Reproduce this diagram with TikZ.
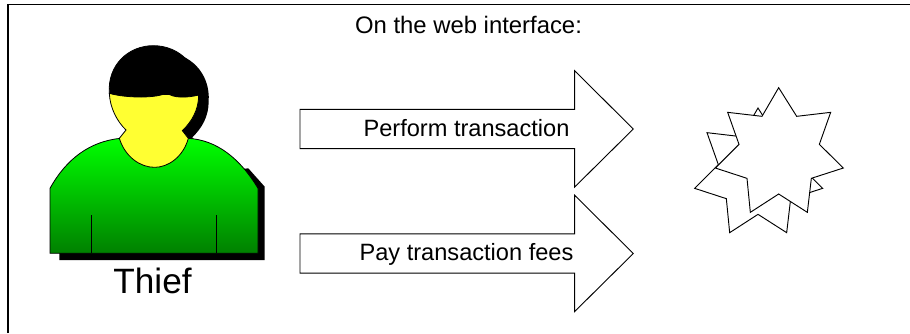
\documentclass[tikz,border=0pt]{standalone}
\usepackage{fontspec}
\setmainfont{Liberation Sans}
\newcommand{\bodypath}{(60,475) .. controls (110,385) and (180,335) .. (270,325) -- (475,325) .. controls (560,330) and (630,385) .. (684,475) -- (684,670) -- (60,670) -- cycle}
\newcommand{\hairpath}{(238,190) .. controls (232,105) and (295,47) .. (370,47) .. controls (450,47) and (512,110) .. (506,195) .. controls (475,203) and (430,206) .. (410,188) .. controls (385,205) and (290,205) .. (238,190) -- cycle}
\newcommand{\headpath}{(238,190) .. controls (240,235) and (262,275) .. (288,300) -- (268,325) .. controls (285,380) and (330,412) .. (374,412) .. controls (415,412) and (460,380) .. (475,325) -- (457,302) .. controls (485,275) and (506,240) .. (506,195) -- cycle}
\newcommand{\starpath}{(296,53) -- (350,139) -- (452,127) -- (418,223) -- (490,294) -- (394,325) -- (382,427) -- (296,372) -- (211,427) -- (201,325) -- (106,294) -- (177,223) -- (143,127) -- (246,139) -- cycle}
\newcommand{\arrowpath}{(0,0) -- (274.7,0) -- (274.7,-38.5) -- (333.3,19.7) -- (274.7,77.7) -- (274.7,39.4) -- (0,39.4) -- cycle}
\definecolor{skin}{RGB}{255,255,50}
\definecolor{greentop}{RGB}{0,255,0}
\definecolor{greenbottom}{RGB}{0,128,0}
\tikzset{
  outline/.style={draw=black,line width=0.7pt,line join=miter},
  thinline/.style={draw=black,line width=0.6pt},
  shadowfill/.style={fill=black,draw=none},
  arrowshape/.style={outline,fill=white},
  labeltext/.style={font=\fontsize{17.7}{21}\selectfont,inner sep=0pt,anchor=base},
}
\begin{document}
\begin{tikzpicture}[x=0.75pt,y=-0.75pt]
\useasboundingbox (0,0) rectangle (910,333);
\fill[white] (0,0) rectangle (910,333);
\draw[line width=0.85pt,line cap=butt] (8,333) -- (8,4.6) -- (910,4.6);
\node[labeltext,font=\fontsize{17.9}{21}\selectfont] (title) at (468.5,33) {On the web interface:};
% person
\begin{scope}[shift={(30,30)},x=0.25pt,y=-0.25pt]
  \begin{scope}[shift={(30,20)}]
    \path[shadowfill] \hairpath;
    \path[shadowfill] \headpath;
  \end{scope}
  \path[shadowfill] (88,690) -- (704,690) -- (704,470) -- (655,415) -- (600,420) -- (88,600) -- cycle;
  \path[thinline,top color=greentop,bottom color=greenbottom] \bodypath;
  \path[thinline] (185,555) -- (185,670);
  \path[thinline] (560,555) -- (560,670);
  \path[thinline,fill=skin] \headpath;
  \path[thinline,fill=black] \hairpath;
\end{scope}
\node[font=\fontsize{26.4}{30}\selectfont,inner sep=0pt,anchor=base] (thief) at (152.5,293.5) {Thief};
% arrows
\begin{scope}[shift={(300,109.3)}]
  \path[arrowshape] \arrowpath;
\end{scope}
\begin{scope}[shift={(300,233.8)}]
  \path[arrowshape] \arrowpath;
\end{scope}
\node[labeltext] (perform) at (466.5,136) {Perform transaction};
\node[labeltext] (fees) at (466.5,260) {Pay transaction fees};
% stars
\begin{scope}[shift={(680,70)},x=0.25pt,y=-0.25pt]
  \begin{scope}[shift={(-62,61)}]
    \path[outline,fill=white] \starpath;
  \end{scope}
  \path[outline,fill=white] \starpath;
\end{scope}
\end{tikzpicture}
\end{document}
